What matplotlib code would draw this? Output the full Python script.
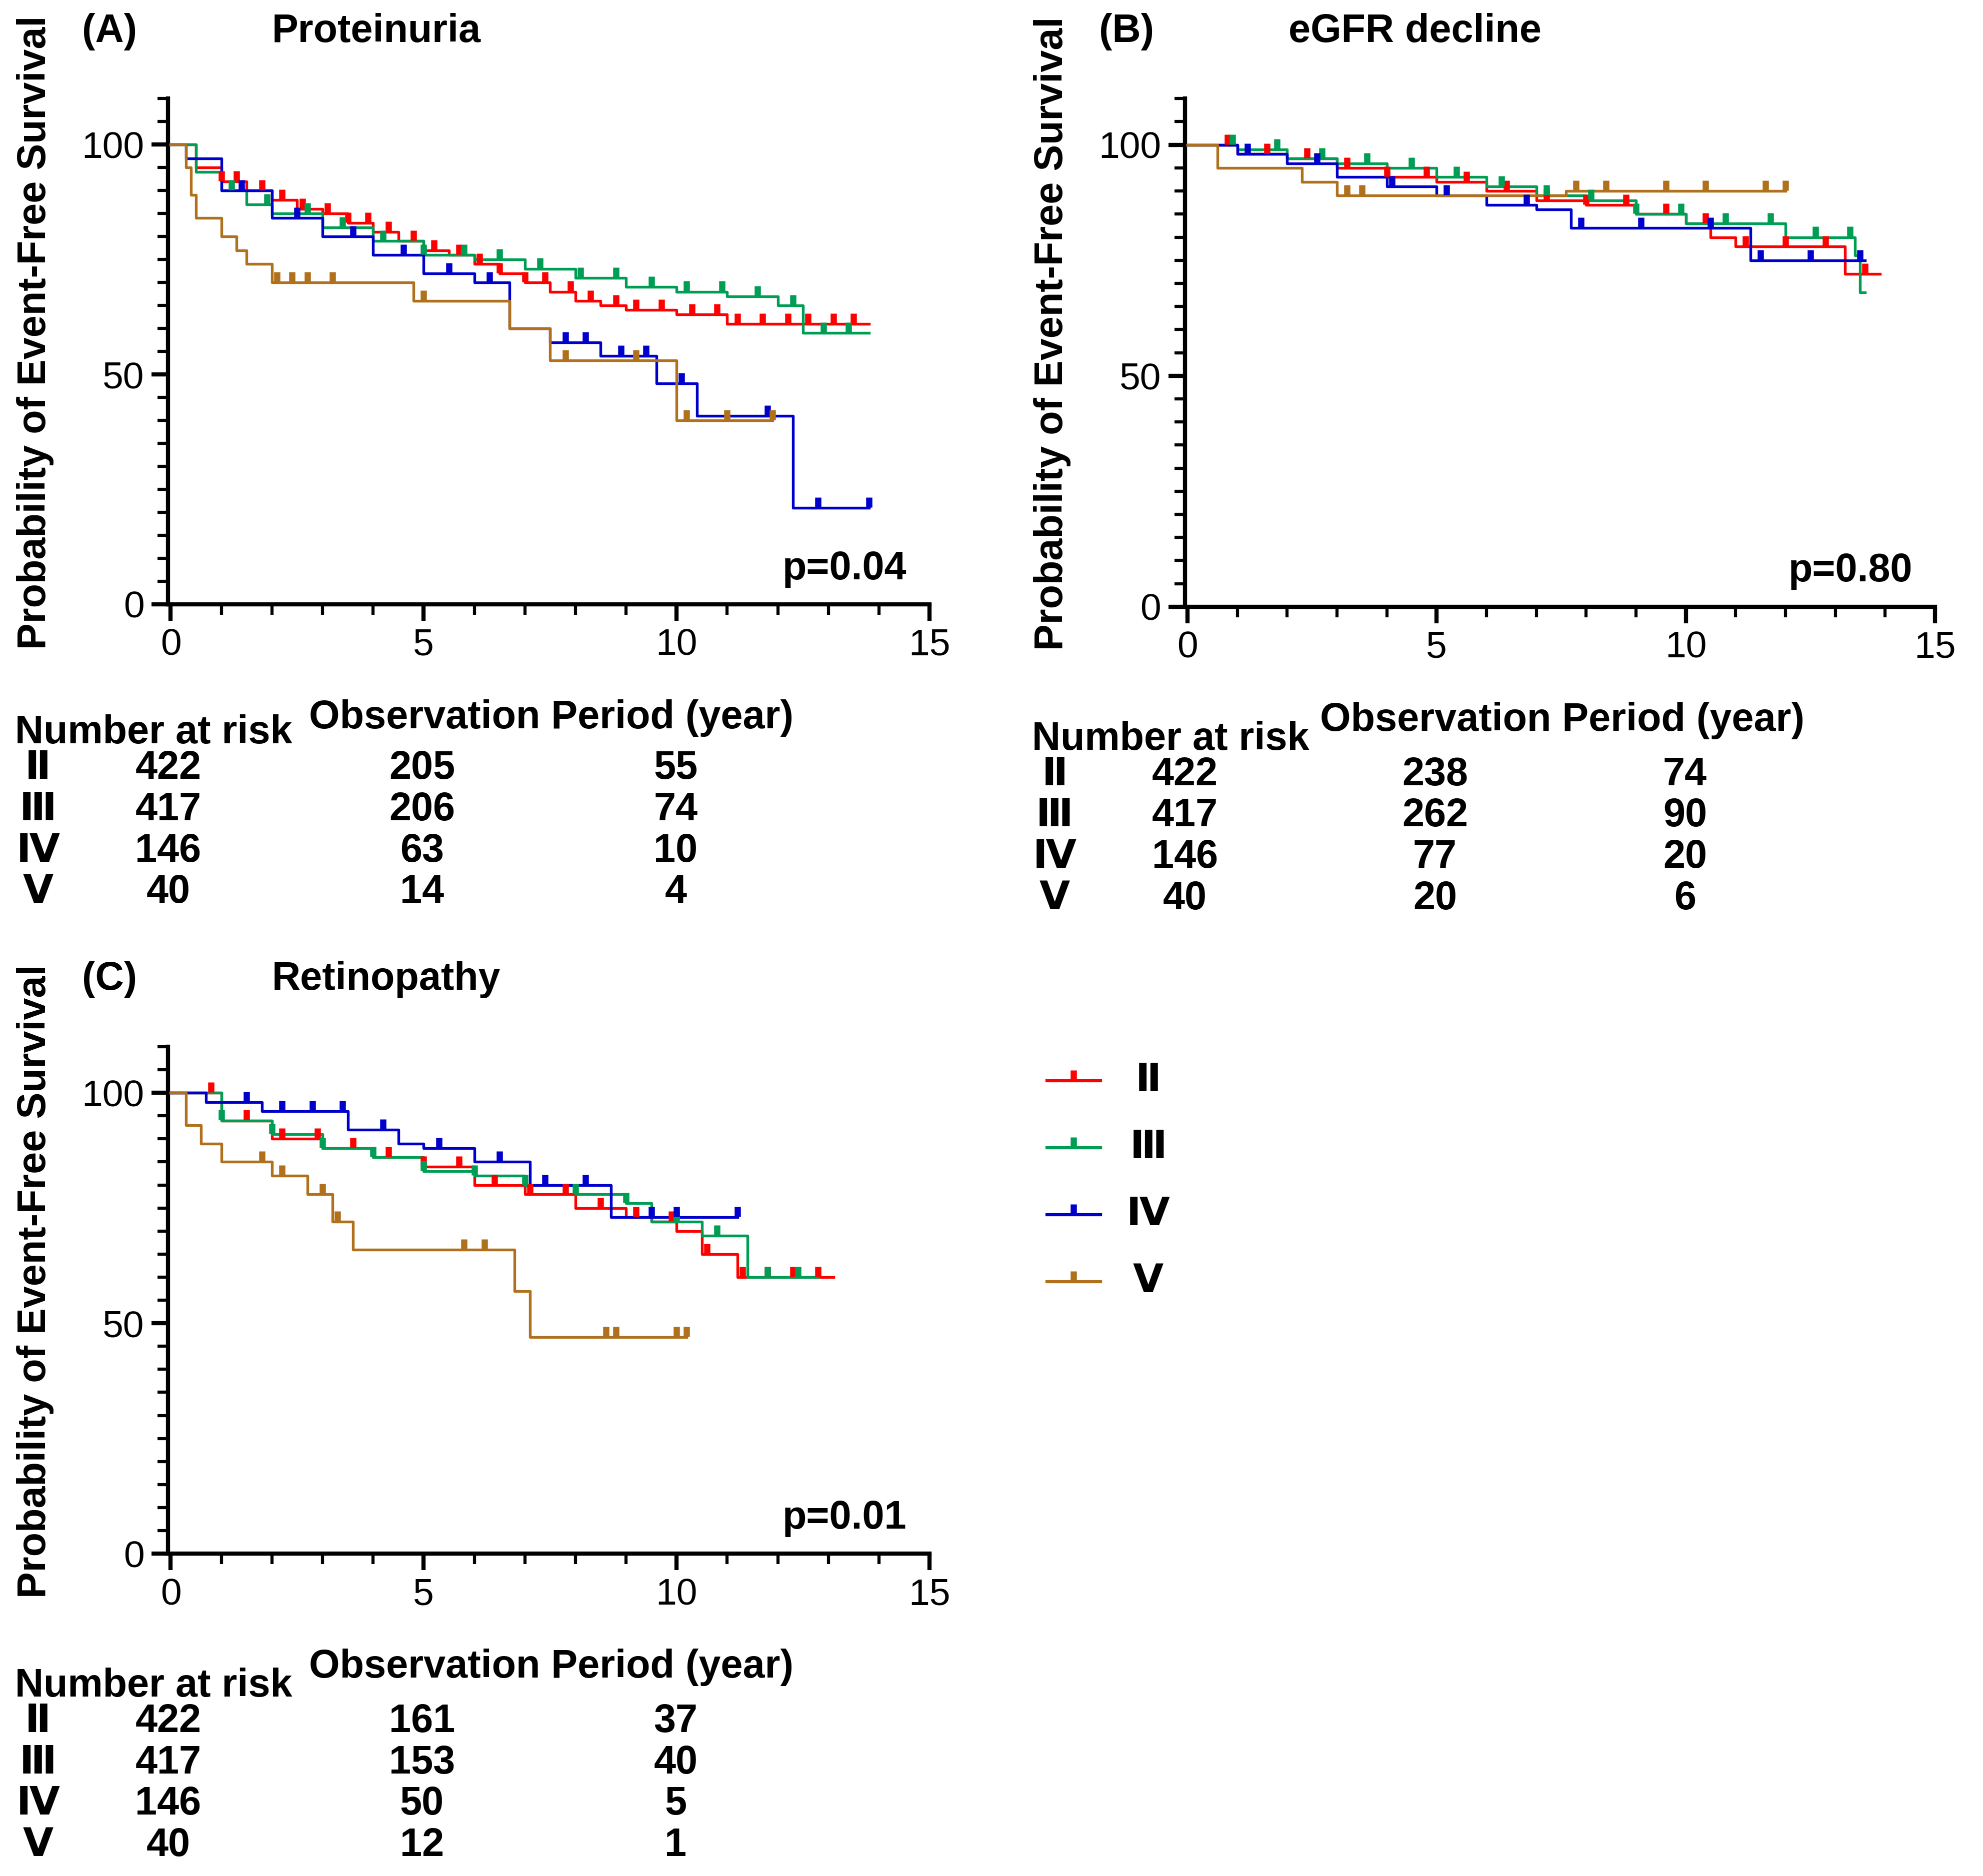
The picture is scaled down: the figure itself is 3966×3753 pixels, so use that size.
import matplotlib
matplotlib.use("Agg")
import matplotlib.pyplot as plt
from matplotlib.ticker import MultipleLocator

plt.rcParams['font.family'] = ['Liberation Sans', 'DejaVu Sans']
plt.rcParams['font.weight'] = 'bold'

groups = ['Ⅱ', 'Ⅲ', 'Ⅳ', 'Ⅴ']
colors = ['#ff0000', '#009e55', '#0000cc', '#b0701c']

# Panel A: Proteinuria
A_t = [[0,0.5,1,1.5,2,2.5,3,3.5,4,4.5,5,5.5,6,6.5,7,7.5,8,8.5,9,10,11,13.8],
       [0,0.5,1,1.5,2,3,4,5,6,7,8,9,10,11,12,12.5,13.8],
       [0,0.3,1,2,3,4,5,6,6.7,7.5,8.5,9.6,10.4,12.3,13.8],
       [0,0.3,0.4,0.5,1,1.3,1.5,2,4.8,6.7,7.5,10,11.9]]
A_s = [[100,95,92,90,88,86,85,83,81,79,77,76,74,72,70,68,66,65,64,63,61,61],
       [100,94,90,87,85,82,79,76,75,73,71,69,68,67,65,59,59],
       [100,97,90,84,80,76,72,70,60,57,54,48,41,21,21],
       [100,95,89,84,80,77,74,70,66,60,53,40,40]]
A_c = [[1,1.3,1.8,2.2,2.6,3.1,3.5,3.9,4.3,4.8,5.2,5.7,6.1,6.5,7,7.4,7.9,8.3,8.8,9.2,9.7,10.3,10.8,11.2,11.7,12.2,12.6,13.1,13.5],
       [1.2,1.9,2.7,3.4,4.2,5,5.8,6.5,7.3,8.1,8.8,9.5,10.2,10.9,11.6,12.3,12.9,13.4],
       [1.4,2.5,3.6,4.6,5.5,6.3,7.8,8.2,8.9,9.4,10.1,11.8,12.8,13.8],
       [2.1,2.4,2.7,3.2,5,7.8,9.2,10.2,11,11.9]]
A_risk = [[422,205,55],[417,206,74],[146,63,10],[40,14,4]]

# Panel B: eGFR decline
B_t = [[0,1,2,3,4,5,6,7,8,9,10,10.5,11,13.2,13.9],
       [0,1,2,3,4,5,6,7,8,9,10,12,13.4,13.5,13.6],
       [0,1,2,3,4,5,6,7,7.7,10,11.3,13.6],
       [0,0.6,2.3,3,7.6,12]]
B_s = [[100,98,97,95,93,92,90,88,87,85,83,80,78,72,72],
       [100,99,97,96,95,93,91,89,88,85,83,80,76,68,68],
       [100,98,96,93,91,89,87,86,82,82,75,75],
       [100,95,92,89,90,90]]
B_c = [[0.8,1.6,2.4,3.2,4,4.8,5.6,6.4,7.2,8,8.8,9.6,10.4,11.2,12,12.8,13.6],
       [0.9,1.8,2.7,3.6,4.5,5.4,6.3,7.2,8.1,9,9.9,10.8,11.7,12.6,13.3],
       [1.2,2.6,4.1,5.2,6.8,7.9,9.1,10.5,11.5,12.5,13.5],
       [3.2,3.5,7.8,8.4,9.6,10.4,11.6,12]]
B_risk = [[422,238,74],[417,262,90],[146,77,20],[40,20,6]]

# Panel C: Retinopathy
C_t = [[0,1,2,3,4,5,6,7,8,9,9.5,10,10.5,11.2,13.1],
       [0,1,2,3,4,5,6,7,8,9,9.5,10.5,11.4,12.8],
       [0,0.7,1.8,3.5,4.5,5,6,7.1,8.7,11.2],
       [0,0.3,0.6,1,2,2.7,3.2,3.6,6.8,7.1,10.2]]
C_s = [[100,94,90,88,86,84,80,78,75,73,72,70,65,60,60],
       [100,94,91,88,86,83,82,80,78,76,72,69,60,60],
       [100,98,96,92,89,88,85,80,73,73],
       [100,93,89,85,82,78,72,66,57,47,47]]
C_c = [[0.8,1.5,2.2,2.9,3.6,4.3,5,5.7,6.4,7.1,7.8,8.5,9.2,9.9,10.6,11.3,11.8,12.3,12.8],
       [1,2,3,4,5,6,7,8,9,10,10.8,11.8,12.4],
       [1.5,2.2,2.8,3.4,4.2,5.3,6.5,7.4,8.2,9.5,10,11.2],
       [1.8,2.2,3,3.3,5.8,6.2,8.6,8.8,10,10.2]]
C_risk = [[422,161,37],[417,153,40],[146,50,5],[40,12,1]]

W, H = 1568.0, 1484.0
fig = plt.figure(figsize=(3966/300, 3753/300), dpi=300)
FS = 19

def fx(x): return x / W
def fy(y): return 1 - y / H

def panel(left, right, top, bottom, T, S, Cc, risk, label, title, pval, risk_y):
    ax = fig.add_axes([fx(left), fy(bottom), fx(right) - fx(left), fy(top) - fy(bottom)])
    for t, s, c, col in zip(T, S, Cc, colors):
        ax.step(t, s, where='post', color=col, lw=1.3, zorder=3)
        cs = []
        for ci in c:
            v = s[0]
            for tt, ss in zip(t, s):
                if tt <= ci:
                    v = ss
            cs.append(v)
        ax.plot(c, [v + 1.2 for v in cs], ls='none', marker='|', ms=5, mew=3, color=col, zorder=4)
    ax.set_xlim(-0.05, 15)
    ax.set_ylim(0, 110)
    ax.set_xticks([0, 5, 10, 15])
    ax.set_yticks([0, 50, 100])
    ax.xaxis.set_minor_locator(MultipleLocator(1))
    ax.yaxis.set_minor_locator(MultipleLocator(5))
    for sp in ['top', 'right']:
        ax.spines[sp].set_visible(False)
    for sp in ['left', 'bottom']:
        ax.spines[sp].set_linewidth(2)
    ax.spines['left'].set_bounds(0, 110)
    ax.tick_params(which='major', length=8, width=2, labelsize=18, direction='out')
    ax.tick_params(which='minor', length=5, width=1.5)
    for lab in ax.get_xticklabels() + ax.get_yticklabels():
        lab.set_fontweight('normal')
    ax.text(0.97, 0.07, pval, transform=ax.transAxes, ha='right', va='center', fontsize=FS, fontweight='bold')
    fig.text(fx(left + (right - left) / 2 + 2), fy(bottom + 90), 'Observation Period (year)', ha='center', va='center', fontsize=FS, fontweight='bold')
    fig.text(fx(left - 105), fy((top + bottom) / 2 - 15), 'Probability of Event-Free Survival', rotation=90, ha='center', va='center', fontsize=FS, fontweight='bold')
    fig.text(fx(left - 68), fy(top - 53), label, ha='left', va='center', fontsize=FS, fontweight='bold')
    fig.text(fx(left + 82), fy(top - 53), title, ha='left', va='center', fontsize=FS, fontweight='bold')
    fig.text(fx(left - 121), fy(risk_y - 28), 'Number at risk', ha='left', va='center', fontsize=FS, fontweight='bold')
    xs = [left, left + (right - left) / 3, left + 2 * (right - left) / 3]
    for i, (g, r) in enumerate(zip(groups, risk)):
        y = fy(risk_y + i * 32.7)
        fig.text(fx(left - 103), y, g, ha='center', va='center', fontsize=FS, fontweight='bold')
        for x, v in zip(xs, r):
            fig.text(fx(x), y, str(v), ha='center', va='center', fontsize=FS, fontweight='bold')
    return ax

panel(133, 735, 78, 478, A_t, A_s, A_c, A_risk, '(A)', 'Proteinuria', 'p=0.04', 608)
panel(937, 1530, 78, 480, B_t, B_s, B_c, B_risk, '(B)', 'eGFR decline', 'p=0.80', 613)
panel(133, 735, 828, 1229, C_t, C_s, C_c, C_risk, '(C)', 'Retinopathy', 'p=0.01', 1362)

for i, (g, col) in enumerate(zip(groups, colors)):
    y = fy(855 + i * 53)
    fig.add_artist(plt.Line2D([fx(828), fx(870)], [y, y], color=col, lw=1.5))
    fig.add_artist(plt.Line2D([fx(849)], [y + 0.003], color=col, marker='|', ms=5, mew=3))
    fig.text(fx(908), y, g, ha='center', va='center', fontsize=FS, fontweight='bold')

fig.savefig('out.png', dpi=300)
